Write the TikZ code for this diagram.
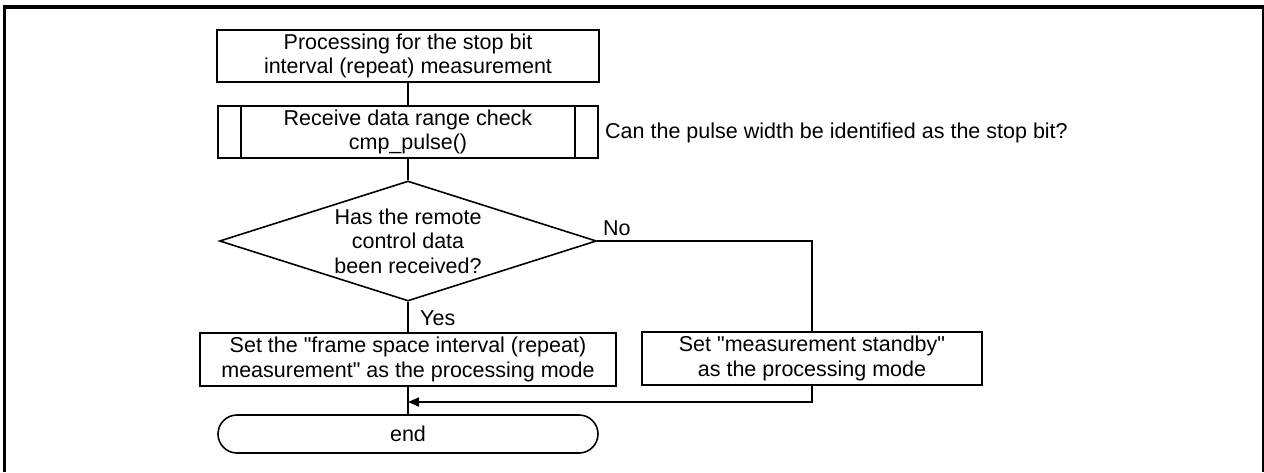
\documentclass[tikz,border=0pt]{standalone}
\usepackage{fontspec}
\setmainfont{Liberation Sans}
\usetikzlibrary{shapes.geometric,shapes.misc,arrows.meta}

\newcommand{\sq}{\textquotedbl}

\tikzset{
  txt/.style={font=\fontsize{21.5}{24.5}\selectfont, align=center, inner sep=0pt},
  procbox/.style={txt, draw, line width=1.6pt, rectangle},
  decision/.style={draw, line width=1.6pt, diamond, inner sep=0pt, aspect=3.14},
  terminal/.style={txt, draw, line width=1.6pt, rounded rectangle},
  flow/.style={line width=1.6pt},
  flowarrow/.style={flow, -{Triangle[length=11pt,width=9pt]}},
  note/.style={font=\fontsize{21.5}{24.5}\selectfont, inner sep=0pt},
}

\begin{document}
\begin{tikzpicture}[x=1pt, y=-1pt]
  \useasboundingbox (0,0) rectangle (1264,472);

  % page frame (open at the bottom)
  \draw[line width=3pt] (4.5,472) -- (4.5,5.5);
  \draw[line width=4pt] (3,7) -- (1264,7);
  \draw[line width=2pt] (1263,5) -- (1263,472);

  % process steps
  \node[procbox, minimum width=382pt, minimum height=52pt] (start) at (408,56)
    {Processing for the stop bit\\interval (repeat) measurement};

  \node[procbox, minimum width=380pt, minimum height=52pt] (sub) at (408,132)
    {Receive data range check\\cmp\_pulse()};
  \draw[line width=1.6pt] ([xshift=24pt]sub.north west) -- ([xshift=24pt]sub.south west);
  \draw[line width=1.6pt] ([xshift=-24pt]sub.north east) -- ([xshift=-24pt]sub.south east);

  \node[note, anchor=base west] (subnote) at (605,138)
    {Can the pulse width be identified as the stop bit?};

  \node[decision, minimum width=377pt, minimum height=120pt] (dec) at (408,241) {};
  \node[txt] (dectext) at (dec.center)
    {Has the remote\\control data\\been received?};

  \node[procbox, minimum width=416pt, minimum height=53pt] (yesbox) at (408,359.5)
    {Set the \sq frame space interval (repeat)\\measurement\sq{} as the processing mode};

  \node[procbox, minimum width=340pt, minimum height=53pt] (nobox) at (812,358.5)
    {Set \sq measurement standby\sq\\as the processing mode};

  \node[terminal, minimum width=380pt, minimum height=38pt] (finish) at (408,434) {end};

  \coordinate (join) at (408,402);

  % branch labels
  \node[note, anchor=base west] (nolabel) at (603,235) {No};
  \node[note, anchor=base west] (yeslabel) at (420,325) {Yes};

  % connectors
  \draw[flow] (start.south) -- (sub.north);
  \draw[flow] (sub.south) -- (dec.north);
  \draw[flow] (dec.south) -- (yesbox.north);
  \draw[flow] (dec.east) -| (nobox.north);
  \draw[flow] (yesbox.south) -- (finish.north);
  \draw[flowarrow] (nobox.south) |- (join);
\end{tikzpicture}
\end{document}
